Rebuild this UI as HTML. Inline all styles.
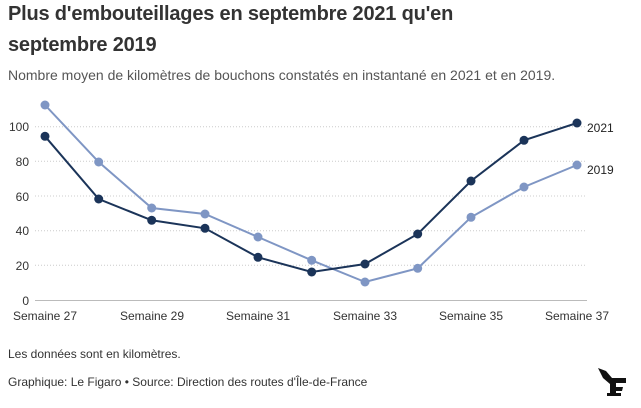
<!DOCTYPE html>
<html><head><meta charset="utf-8"><style>
body{margin:0;background:#fff;width:641px;height:408px;overflow:hidden;font-family:"Liberation Sans",sans-serif;color:#333}
.t{position:absolute;left:8px;top:-1px;font-size:20px;font-weight:bold;line-height:31px;color:#333;letter-spacing:-0.2px}
.s{position:absolute;left:8px;top:67px;font-size:14px;color:#555}
.f{position:absolute;left:8px;font-size:12px;color:#333}
</style></head><body>
<div class="t">Plus d'embouteillages en septembre 2021 qu'en<br>septembre 2019</div>
<div class="s">Nombre moyen de kilomètres de bouchons constatés en instantané en 2021 et en 2019.</div>
<svg width="641" height="408" style="position:absolute;left:0;top:0" font-family="Liberation Sans, sans-serif" font-size="12" fill="#333">
<g stroke="#ccc" stroke-dasharray="1,2" stroke-width="1">
<line x1="35" x2="587" y1="265.3" y2="265.3"/><line x1="35" x2="587" y1="230.7" y2="230.7"/><line x1="35" x2="587" y1="196" y2="196"/><line x1="35" x2="587" y1="161.3" y2="161.3"/><line x1="35" x2="587" y1="126.7" y2="126.7"/>
</g>
<line x1="35" x2="587" y1="300.5" y2="300.5" stroke="#bbb"/>
<g text-anchor="end"><text x="29" y="305">0</text><text x="29" y="270">20</text><text x="29" y="235">40</text><text x="29" y="201">60</text><text x="29" y="166">80</text><text x="29" y="131">100</text></g>
<g text-anchor="middle"><text x="45" y="320">Semaine 27</text><text x="152" y="320">Semaine 29</text><text x="258" y="320">Semaine 31</text><text x="365" y="320">Semaine 33</text><text x="471" y="320">Semaine 35</text><text x="577" y="320">Semaine 37</text></g>
<g fill="#7f96c4" stroke="none">
<polyline fill="none" stroke="#7f96c4" stroke-width="2" points="45,105 98.7,162 151.7,208 205,214 258,237 311.7,260.3 365,282 417.7,268.3 471,217.3 524,187 577,165"/>
<circle cx="45" cy="105" r="4.5"/><circle cx="98.7" cy="162" r="4.5"/><circle cx="151.7" cy="208" r="4.5"/><circle cx="205" cy="214" r="4.5"/><circle cx="258" cy="237" r="4.5"/><circle cx="311.7" cy="260.3" r="4.5"/><circle cx="365" cy="282" r="4.5"/><circle cx="417.7" cy="268.3" r="4.5"/><circle cx="471" cy="217.3" r="4.5"/><circle cx="524" cy="187" r="4.5"/><circle cx="577" cy="165" r="4.5"/>
</g>
<g fill="#1b3459">
<polyline fill="none" stroke="#1b3459" stroke-width="2" points="45,136.3 98.7,199 151.7,220.3 205,228.3 258,257.3 311.7,272 365,264 417.7,234 471,181 524,140.3 577,123"/>
<circle cx="45" cy="136.3" r="4.5"/><circle cx="98.7" cy="199" r="4.5"/><circle cx="151.7" cy="220.3" r="4.5"/><circle cx="205" cy="228.3" r="4.5"/><circle cx="258" cy="257.3" r="4.5"/><circle cx="311.7" cy="272" r="4.5"/><circle cx="365" cy="264" r="4.5"/><circle cx="417.7" cy="234" r="4.5"/><circle cx="471" cy="181" r="4.5"/><circle cx="524" cy="140.3" r="4.5"/><circle cx="577" cy="123" r="4.5"/>
</g>
<text x="587" y="132" fill="#222">2021</text><text x="587" y="174" fill="#222">2019</text>
<g fill="#111"><path d="M598 368 L606 371 L612 378 L626 378 L626 383 L616 383 L616 387 L623 387 L622 391 L616 391 L616 393 L621 393 L621 396 L607 396 L607 393 L610 393 L610 384 L603 378 Z"/></g>
</svg>
<div class="f" style="top:347px">Les données sont en kilomètres.</div>
<div class="f" style="top:375px">Graphique: Le Figaro • Source: Direction des routes d'Île-de-France</div>
</body></html>
